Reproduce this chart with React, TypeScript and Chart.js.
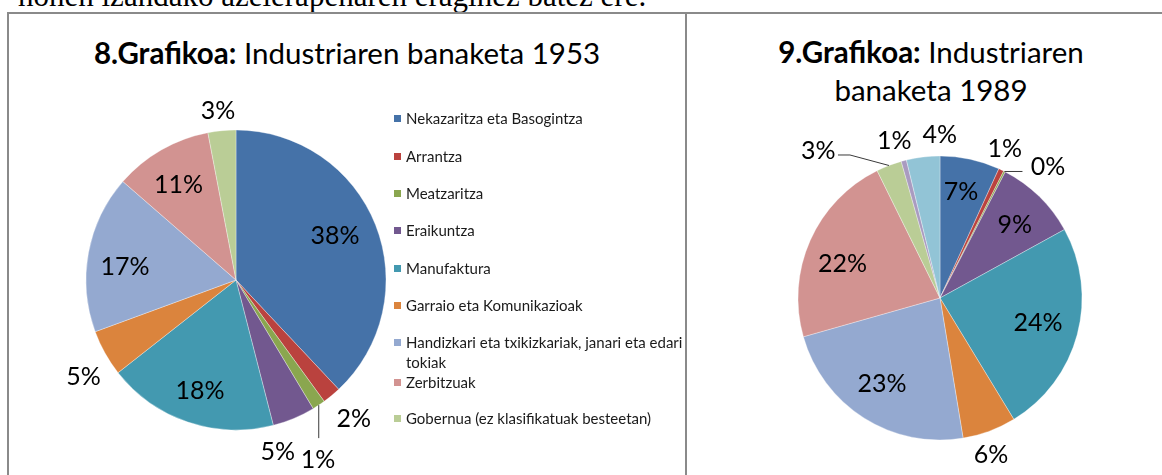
import React, { useEffect, useRef } from "react";
import { Chart, registerables } from "chart.js";

Chart.register(...registerables);

// ---- data ----
const categories1953 = [
  "Nekazaritza eta Basogintza",
  "Arrantza",
  "Meatzaritza",
  "Eraikuntza",
  "Manufaktura",
  "Garraio eta Komunikazioak",
  "Handizkari eta txikizkariak, janari eta edari tokiak",
  "Zerbitzuak",
  "Gobernua (ez klasifikatuak besteetan)",
];
const values1953 = [38, 2, 1.4, 4.6, 18.4, 5, 17, 10.6, 3];

const categories1989 = [
  "Nekazaritza eta Basogintza",
  "Arrantza",
  "Meatzaritza",
  "Eraikuntza",
  "Manufaktura",
  "Garraio eta Komunikazioak",
  "Handizkari eta txikizkariak, janari eta edari tokiak",
  "Zerbitzuak",
  "Gobernua (ez klasifikatuak besteetan)",
  "10. kategoria",
  "11. kategoria",
];
const values1989 = [6.8, 0.6, 0.2, 9.4, 24.3, 6.1, 23.2, 22.1, 2.9, 0.6, 3.8];

const sliceColors = [
  "#4572A8",
  "#BA423E",
  "#8AA64F",
  "#72588F",
  "#4399B0",
  "#DB843D",
  "#94A9D0",
  "#D29391",
  "#BACD96",
  "#A99BC0",
  "#92C4D6",
];

// ---- label placement (distance as fraction of radius, angle shift in degrees) ----
type Place = { d: number; da: number; leader?: number[][] };
const labelPlace1953: Place[] = [
  { d: 0.725, da: -2.8 },
  { d: 1.21, da: -0.9 },
  { d: 1.31, da: 8.8, leader: [[0, 33]] },
  { d: 1.17, da: 8.9 },
  { d: 0.77, da: -0.6 },
  { d: 1.2, da: -2.9 },
  { d: 0.745, da: -3.2 },
  { d: 0.745, da: -1.1 },
  { d: 1.14, da: -0.6 },
];
const labelPlace1989: Place[] = [
  { d: 0.77, da: -1.1 },
  { d: 1.15, da: -2.2 },
  { d: 1.2, da: 12.3, leader: [[18, 0]] },
  { d: 0.74, da: 1.1 },
  { d: 0.71, da: -1.2 },
  { d: 1.155, da: 2.2 },
  { d: 0.725, da: 1.9 },
  { d: 0.73, da: -4 },
  { d: 1.35, da: -18.4, leader: [[-39, -10.5], [-51, -10.5]] },
  { d: 1.16, da: -1.4 },
  { d: 1.155, da: 6.8 },
];

const legendCenters = [118, 156, 193, 230, 268, 305, 342, 382, 418];

const FONT = "Lato, 'Open Sans', sans-serif";

const pctLabels = {
  id: "pctLabels",
  afterDatasetsDraw(chart: any, _args: any, opts: any) {
    const { ctx } = chart;
    const meta = chart.getDatasetMeta(0);
    const data = chart.data.datasets[0].data as number[];
    const total = data.reduce((a: number, b: number) => a + b, 0);
    ctx.save();
    ctx.font = `${opts.size}px ${FONT}`;
    ctx.fillStyle = "#000";
    ctx.textAlign = "center";
    ctx.textBaseline = "middle";
    meta.data.forEach((arc: any, i: number) => {
      const p: Place = opts.place[i];
      if (!p) return;
      const { x, y, startAngle, endAngle, outerRadius } = arc.getProps([
        "x",
        "y",
        "startAngle",
        "endAngle",
        "outerRadius",
      ]);
      const mid = (startAngle + endAngle) / 2;
      if (p.leader) {
        const ex = x + outerRadius * Math.cos(mid);
        const ey = y + outerRadius * Math.sin(mid);
        ctx.beginPath();
        ctx.moveTo(ex, ey);
        p.leader.forEach(([dx, dy]) => ctx.lineTo(ex + dx, ey + dy));
        ctx.strokeStyle = "#3a3a3a";
        ctx.lineWidth = 1;
        ctx.stroke();
      }
      const a = mid + (p.da * Math.PI) / 180;
      const lx = x + p.d * outerRadius * Math.cos(a);
      const ly = y + p.d * outerRadius * Math.sin(a);
      ctx.fillText(Math.round((data[i] / total) * 100) + "%", lx, ly + 1);
    });
    ctx.restore();
  },
};

function PieCanvas(props: {
  labels: string[];
  values: number[];
  place: Place[];
  radius: number;
  padding: { left: number; top: number; right: number; bottom: number };
  width: number;
  height: number;
  left: number;
  top: number;
}) {
  const ref = useRef<HTMLCanvasElement | null>(null);
  useEffect(() => {
    if (!ref.current) return;
    const chart = new Chart(ref.current, {
      type: "pie",
      data: {
        labels: props.labels,
        datasets: [
          {
            data: props.values,
            backgroundColor: sliceColors.slice(0, props.values.length),
            borderColor: "rgba(255,255,255,0.55)",
            borderWidth: 0.6,
          },
        ],
      },
      options: {
        responsive: false,
        animation: false,
        radius: props.radius,
        layout: { padding: props.padding },
        plugins: {
          legend: { display: false },
          tooltip: { enabled: false },
          pctLabels: { size: 25, place: props.place },
        } as any,
      } as any,
      plugins: [pctLabels as any],
    });
    return () => chart.destroy();
  }, []);
  return (
    <canvas
      ref={ref}
      width={props.width}
      height={props.height}
      style={{
        position: "absolute",
        left: props.left,
        top: props.top,
        width: props.width,
        height: props.height,
      }}
    />
  );
}

export default function App() {
  const line = "#8a8a8a";
  return (
    <div
      style={{
        position: "absolute",
        left: 0,
        top: 0,
        width: 1162,
        height: 475,
        overflow: "hidden",
        background: "#fff",
      }}
    >
      <div
        style={{
          position: "absolute",
          left: 18,
          top: -20,
          whiteSpace: "nowrap",
          fontFamily: "'Liberation Serif', 'Times New Roman', serif",
          fontSize: 31,
          lineHeight: "31px",
          color: "#000",
        }}
      >
        honen izandako azelerapenaren eraginez batez ere.
      </div>
      {/* table borders */}
      <div style={{ position: "absolute", left: 7, top: 12, width: 1155, height: 2, background: line }} />
      <div style={{ position: "absolute", left: 7, top: 12, width: 2, height: 463, background: line }} />
      <div style={{ position: "absolute", left: 685, top: 12, width: 2, height: 463, background: line }} />

      {/* titles */}
      <div
        style={{
          position: "absolute",
          left: 9,
          top: 37.5,
          width: 676,
          textAlign: "center",
          fontFamily: FONT,
          fontSize: 29.5,
          lineHeight: "30px",
          color: "#000",
          whiteSpace: "nowrap",
        }}
      >
        <b>8.Grafikoa:</b> Industriaren banaketa 1953
      </div>
      <div
        style={{
          position: "absolute",
          left: 687,
          top: 32.5,
          width: 488,
          textAlign: "center",
          fontFamily: FONT,
          fontSize: 29.5,
          lineHeight: "38.4px",
          color: "#000",
          whiteSpace: "nowrap",
        }}
      >
        <b>9.Grafikoa:</b> Industriaren
        <br />
        banaketa 1989
      </div>

      <PieCanvas
        labels={categories1953}
        values={values1953}
        place={labelPlace1953}
        radius={150}
        width={674}
        height={461}
        left={10}
        top={14}
        padding={{ left: 76, top: 116, right: 298, bottom: 45 }}
      />
      <PieCanvas
        labels={categories1989}
        values={values1989}
        place={labelPlace1989}
        radius={142}
        width={474}
        height={461}
        left={688}
        top={14}
        padding={{ left: 110, top: 142, right: 80, bottom: 35 }}
      />

      {/* legend of chart 8 */}
      {categories1953.map((c, i) => (
        <React.Fragment key={c}>
          <div
            style={{
              position: "absolute",
              left: 394,
              top: legendCenters[i] - 3.5,
              width: 7,
              height: 7,
              background: sliceColors[i],
            }}
          />
          <div
            style={{
              position: "absolute",
              left: 406,
              top: legendCenters[i] - 10,
              width: 282,
              fontFamily: FONT,
              fontSize: 15,
              lineHeight: "20px",
              color: "#1a1a1a",
            }}
          >
            {c}
          </div>
        </React.Fragment>
      ))}
    </div>
  );
}
